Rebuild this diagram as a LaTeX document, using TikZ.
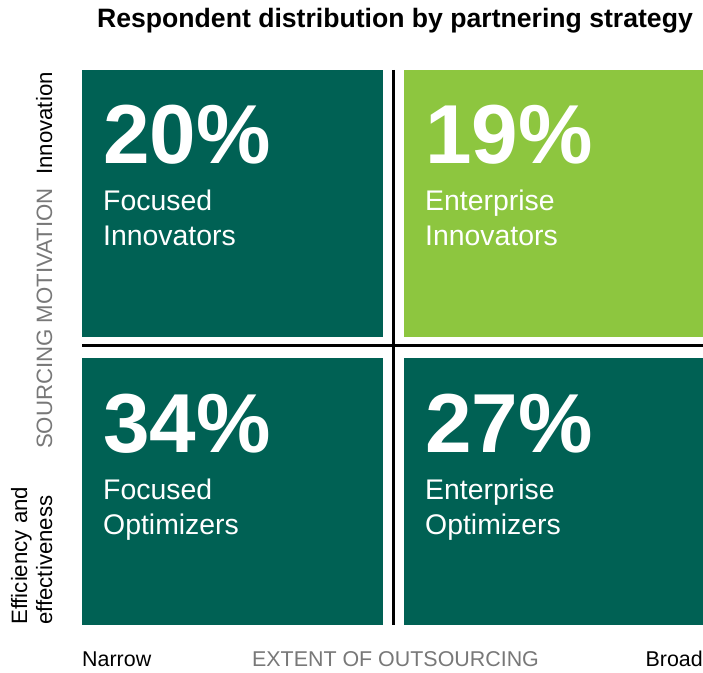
\documentclass[tikz,border=0pt]{standalone}
\usepackage{fontspec}
\setmainfont{Liberation Sans}
\usepackage{tikz}
\definecolor{quadteal}{RGB}{0,97,84}
\definecolor{quadgreen}{RGB}{141,198,63}
\definecolor{axisgray}{RGB}{120,120,120}

\begin{document}
\begin{tikzpicture}[x=1bp,y=-1bp]
\tikzstyle{every node}+=[inner sep=0pt]
\tikzstyle{quad}=[anchor=north west,minimum width=301bp,minimum height=267bp]
\tikzstyle{pct}=[anchor=base west,white,font=\fontsize{84}{84}\selectfont\bfseries]
\tikzstyle{segname}=[anchor=base west,white,font=\fontsize{28.5}{35}\selectfont]
\tikzstyle{axislbl}=[font=\fontsize{21.5}{26}\selectfont]
\tikzstyle{sidelbl}=[rotate=90,font=\fontsize{22.3}{26}\selectfont]
\useasboundingbox (0,0) rectangle (703,673);
% title
\node [anchor=base,font=\fontsize{26.7}{30}\selectfont\bfseries] (title) at (395,28) {Respondent distribution by partnering strategy};
% quadrants
\node [quad,fill=quadteal] (fi) at (82,70) {};
\node [quad,fill=quadgreen,minimum width=299bp] (ei) at (404,70) {};
\node [quad,fill=quadteal] (fo) at (82,358) {};
\node [quad,fill=quadteal,minimum width=299bp] (eo) at (404,358) {};
\node [pct] (fipct) at (103,163) {20\%};
\node [segname] (fia) at (103,210) {Focused};
\node [segname] (fib) at (103,245) {Innovators};
\node [pct] (eipct) at (425,163) {19\%};
\node [segname] (eia) at (425,210) {Enterprise};
\node [segname] (eib) at (425,245) {Innovators};
\node [pct] (fopct) at (103,452) {34\%};
\node [segname] (foa) at (103,499) {Focused};
\node [segname] (fob) at (103,534) {Optimizers};
\node [pct] (eopct) at (425,452) {27\%};
\node [segname] (eoa) at (425,499) {Enterprise};
\node [segname] (eob) at (425,534) {Optimizers};
% cross lines
\coordinate (vtop) at (393.5,70);
\coordinate (vbot) at (393.5,625);
\coordinate (hleft) at (82,345.5);
\coordinate (hright) at (703,345.5);
\draw [black,line width=2.5bp] (vtop) -- (vbot);
\draw [black,line width=2.5bp] (hleft) -- (hright);
% axis labels
\node [sidelbl,anchor=base west] (inno) at (52,175) {Innovation};
\node [sidelbl,anchor=base,axisgray] (motiv) at (52,318.5) {SOURCING MOTIVATION};
\node [sidelbl,anchor=base west] (effa) at (27,625) {Efficiency and};
\node [sidelbl,anchor=base west] (effb) at (52,625) {effectiveness};
\node [axislbl,anchor=base west] (narrow) at (82,666) {Narrow};
\node [axislbl,anchor=base,axisgray] (extent) at (395.5,666) {EXTENT OF OUTSOURCING};
\node [axislbl,anchor=base east] (broad) at (703,666) {Broad};
\end{tikzpicture}
\end{document}
